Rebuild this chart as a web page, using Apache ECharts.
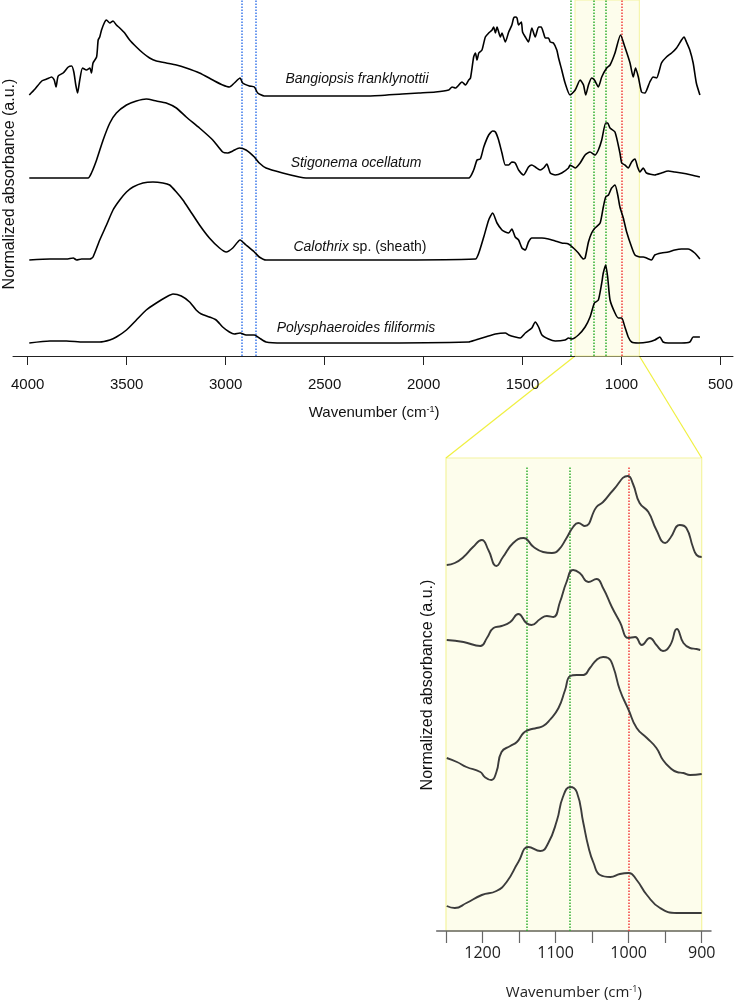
<!DOCTYPE html>
<html><head><meta charset="utf-8">
<script src="https://cdn.jsdelivr.net/npm/echarts@6/dist/echarts.min.js"></script>
<style>html,body{margin:0;padding:0;background:#fff}#c{width:736px;height:1004px}</style>
</head><body><div id="c"></div><script>
// ---- DATA (wavenumber cm-1, stacked normalized absorbance a.u.) ----
const seriesNames = ['Bangiopsis franklynottii', 'Stigonema ocellatum', 'Calothrix sp. (sheath)', 'Polysphaeroides filiformis'];
const topTicks = [4000, 3500, 3000, 2500, 2000, 1500, 1000, 500];
const insetTicks = [1200, 1100, 1000, 900];
const blueLines = [2920, 2850];
const greenLinesTop = [1258, 1140, 1080];
const greenLinesInset = [1140, 1080];
const redLines = [1000];
const zoomRange = [1235, 910];

const bangiopsisTop = [[3992,26.1],[3963,26.7],[3929,27.5],[3904,27.7],[3879,27.9],[3866,27.6],[3857,26.9],[3846,28.0],[3821,28.3],[3795,28.9],[3778,29.0],[3767,28.4],[3757,27.1],[3748,26.3],[3737,27.6],[3723,28.8],[3703,28.6],[3686,28.8],[3678,28.3],[3670,29.3],[3652,29.9],[3644,31.6],[3636,31.9],[3627,32.6],[3611,33.4],[3602,33.6],[3585,33.3],[3569,33.5],[3552,33.1],[3535,32.8],[3510,32.3],[3485,31.6],[3451,30.9],[3418,30.3],[3384,29.8],[3350,29.5],[3300,29.3],[3249,29.1],[3199,28.8],[3132,28.3],[3065,27.6],[3015,27.1],[2981,26.9],[2956,27.3],[2927,27.8],[2914,27.3],[2880,27.0],[2855,26.9],[2838,26.3],[2805,26.0],[2712,26.0],[2276,26.0],[2108,26.2],[2024,26.3],[1940,26.4],[1873,26.6],[1856,26.9],[1839,26.8],[1806,27.4],[1788,27.1],[1772,27.6],[1763,27.8],[1747,29.9],[1738,30.3],[1730,29.6],[1721,30.3],[1705,30.6],[1688,31.9],[1671,32.3],[1654,32.6],[1646,32.9],[1637,32.3],[1629,32.9],[1612,31.9],[1604,32.3],[1587,31.4],[1570,32.4],[1554,33.1],[1545,33.8],[1537,33.9],[1528,33.8],[1520,33.1],[1506,33.4],[1500,32.4],[1486,31.9],[1470,31.4],[1453,32.8],[1436,31.9],[1419,32.9],[1406,32.9],[1394,32.3],[1385,31.8],[1369,31.8],[1360,31.4],[1344,31.3],[1327,30.6],[1318,29.8],[1302,28.6],[1285,27.3],[1260,26.1],[1234,26.6],[1209,27.6],[1192,27.1],[1181,26.1],[1167,27.1],[1151,27.8],[1137,27.6],[1117,26.9],[1100,27.9],[1075,28.8],[1058,29.1],[1033,30.3],[1005,32.1],[983,30.9],[957,29.3],[941,27.9],[929,28.8],[915,27.9],[899,26.4],[882,26.3],[857,27.4],[840,27.9],[823,27.8],[798,29.3],[773,29.9],[747,30.3],[722,30.8],[697,31.6],[684,31.9],[672,31.4],[655,30.6],[638,29.3],[622,27.3],[604,26.1]];

const stigonemaTop = [[3992,17.8],[3695,17.8],[3678,18.3],[3652,19.6],[3619,21.6],[3585,23.3],[3552,24.3],[3501,25.1],[3451,25.5],[3401,25.7],[3350,25.5],[3300,25.3],[3249,24.8],[3199,23.9],[3132,22.8],[3065,21.6],[3015,20.4],[2989,20.3],[2964,20.5],[2931,20.8],[2897,20.6],[2855,19.9],[2830,19.3],[2796,18.8],[2712,18.3],[2628,17.9],[2594,17.8],[2276,17.8],[1772,17.8],[1747,18.6],[1730,19.6],[1713,19.7],[1696,20.9],[1671,22.1],[1651,22.5],[1637,22.4],[1621,21.6],[1604,20.3],[1587,19.1],[1570,19.1],[1554,19.4],[1537,19.3],[1520,18.6],[1495,18.1],[1470,18.9],[1453,19.1],[1436,18.9],[1411,18.6],[1394,18.8],[1377,19.2],[1360,18.3],[1335,18.1],[1302,18.3],[1268,18.8],[1260,19.1],[1234,18.8],[1209,19.3],[1184,20.1],[1159,20.4],[1134,20.1],[1117,20.6],[1100,21.6],[1080,23.3],[1070,23.3],[1058,22.8],[1033,22.4],[1008,20.3],[999,19.3],[983,19.1],[966,18.8],[949,19.4],[932,19.7],[919,18.9],[907,18.4],[890,18.8],[874,18.3],[832,18.1],[798,18.3],[764,18.5],[731,18.4],[697,18.3],[647,18.1],[604,17.9]];

const calothrixTop = [[3992,9.6],[3888,9.7],[3804,9.7],[3770,9.8],[3753,9.6],[3728,9.7],[3686,9.7],[3670,9.9],[3636,11.6],[3602,13.1],[3569,14.6],[3535,15.6],[3501,16.4],[3468,16.9],[3418,17.3],[3367,17.4],[3317,17.3],[3283,17.1],[3249,16.4],[3216,15.6],[3182,14.6],[3132,13.1],[3082,11.8],[3031,10.8],[2997,10.4],[2964,10.8],[2927,11.6],[2897,11.1],[2855,10.4],[2830,9.9],[2796,9.6],[2276,9.6],[1738,9.7],[1721,10.3],[1696,11.9],[1671,13.6],[1651,14.3],[1629,13.3],[1604,12.6],[1587,12.4],[1570,12.3],[1554,12.7],[1537,11.9],[1520,11.6],[1503,10.8],[1486,10.6],[1470,11.4],[1453,11.8],[1436,11.8],[1402,11.8],[1369,11.7],[1335,11.5],[1302,11.3],[1268,11.2],[1243,10.8],[1218,10.3],[1192,9.7],[1184,9.8],[1167,11.4],[1151,12.3],[1134,12.8],[1108,13.3],[1092,14.9],[1080,15.9],[1066,16.1],[1050,16.8],[1033,17.1],[1019,16.1],[1008,14.9],[991,13.8],[974,12.4],[949,10.9],[932,10.1],[907,9.9],[890,9.9],[874,9.8],[848,9.6],[832,10.1],[798,10.3],[764,10.4],[731,10.6],[697,10.7],[664,10.7],[630,10.3],[604,9.7]];

const polysphaeroidesTop = [[3992,1.3],[3888,1.5],[3804,1.5],[3720,1.4],[3636,1.4],[3585,1.6],[3552,1.9],[3501,2.6],[3451,3.6],[3401,4.6],[3350,5.3],[3300,5.9],[3266,6.2],[3224,6.0],[3182,5.4],[3149,4.6],[3123,4.2],[3082,3.9],[3048,3.6],[3015,2.9],[2981,2.4],[2956,2.2],[2927,2.3],[2897,2.1],[2855,2.1],[2830,1.8],[2796,1.4],[2712,1.3],[2276,1.3],[1772,1.4],[1738,1.6],[1688,1.9],[1637,2.2],[1587,2.3],[1570,2.1],[1537,1.9],[1512,1.8],[1486,2.3],[1453,2.8],[1436,3.4],[1419,2.9],[1402,2.1],[1369,1.7],[1335,1.5],[1285,1.6],[1268,1.8],[1251,1.7],[1218,2.1],[1184,2.9],[1159,3.9],[1137,5.3],[1117,5.6],[1100,7.3],[1092,8.3],[1080,9.1],[1070,7.9],[1058,5.6],[1033,4.3],[1016,3.8],[999,3.8],[983,2.9],[966,1.9],[949,1.4],[915,1.3],[865,1.4],[832,1.6],[806,1.9],[790,1.4],[764,1.3],[697,1.3],[655,1.4],[638,1.9],[604,1.9]];

const bangiopsisInset = [[1249,36.6],[1238,36.8],[1226,37.4],[1213,38.4],[1201,39.1],[1192,38.1],[1181,36.5],[1172,37.4],[1158,38.8],[1144,39.3],[1130,38.4],[1117,37.9],[1105,37.8],[1096,38.1],[1085,39.3],[1076,40.4],[1069,40.8],[1060,40.5],[1044,42.4],[1035,42.9],[1021,44.1],[1001,45.5],[994,44.7],[985,42.8],[973,41.9],[962,40.1],[950,38.8],[943,39.3],[930,40.6],[921,40.3],[912,38.4],[907,37.6],[900,37.4]];

const stigonemaInset = [[1249,29.1],[1226,28.9],[1203,28.5],[1194,29.3],[1185,30.3],[1174,30.5],[1162,30.9],[1151,31.7],[1140,30.8],[1133,30.6],[1121,31.2],[1112,31.5],[1103,31.4],[1094,32.9],[1085,34.9],[1076,36.1],[1067,35.8],[1055,34.9],[1044,35.2],[1035,34.3],[1023,32.4],[1012,30.9],[1000,29.3],[991,29.4],[982,28.6],[971,29.3],[962,28.6],[953,28.0],[943,28.6],[934,30.2],[925,28.8],[916,28.3],[907,28.2],[902,28.1]];

const calothrixInset = [[1249,17.3],[1235,16.9],[1222,16.4],[1203,15.9],[1197,15.4],[1188,15.1],[1181,15.9],[1174,17.9],[1162,18.5],[1153,18.9],[1144,19.8],[1137,20.1],[1126,20.3],[1117,20.5],[1108,21.1],[1096,22.3],[1087,24.1],[1080,25.5],[1071,25.6],[1062,25.6],[1053,26.3],[1044,27.1],[1035,27.4],[1028,27.3],[1021,26.4],[1012,24.1],[1000,22.1],[989,20.3],[975,19.3],[962,18.3],[953,17.1],[943,16.3],[934,15.9],[925,15.8],[916,15.6],[900,15.7]];

const polysphaeroidesInset = [[1249,2.5],[1238,2.3],[1222,2.8],[1201,3.6],[1181,4.0],[1167,4.9],[1151,6.9],[1137,8.4],[1121,8.0],[1110,8.8],[1098,11.1],[1090,13.4],[1080,14.4],[1071,13.9],[1062,10.8],[1055,8.4],[1048,6.8],[1039,5.6],[1025,5.4],[1012,5.7],[1000,5.8],[989,5.1],[975,3.6],[957,2.3],[934,1.8],[916,1.8],[900,1.8]];

// ---- CHART ----
const chart = echarts.init(document.getElementById('c'), null, {renderer: 'canvas'});
const FONT = 'Liberation Sans, Arial, sans-serif';
const BLUE = '#3b78ea', GREEN = '#2fae2f', RED = '#f23c3c';
const yTopMax = 35.6, yInsetMax = 47.3;

const dotted = (c) => ({color: c, type: 'dotted', width: 1.5});
const topMarkLines = [].concat(
  blueLines.map(v => ({xAxis: v, lineStyle: dotted(BLUE)})),
  greenLinesTop.map(v => ({xAxis: v, lineStyle: dotted(GREEN)})),
  redLines.map(v => ({xAxis: v, lineStyle: dotted(RED)}))
);
const insetMarkLines = [].concat(
  greenLinesInset.map(v => [{coord: [v, 0], lineStyle: dotted(GREEN)}, {coord: [v, 46.4]}]),
  redLines.map(v => [{coord: [v, 0], lineStyle: dotted(RED)}, {coord: [v, 46.4]}])
);

const topData = [bangiopsisTop, stigonemaTop, calothrixTop, polysphaeroidesTop];
const insetData = [bangiopsisInset, stigonemaInset, calothrixInset, polysphaeroidesInset];

const series = [];
topData.forEach((d, i) => {
  const s = {
    name: seriesNames[i], type: 'line', xAxisIndex: 0, yAxisIndex: 0, data: d,
    showSymbol: false, smooth: 0.2, silent: true,
    lineStyle: {color: '#000', width: 1.6}, z: 5
  };
  if (i === 0) {
    s.markArea = {silent: true, itemStyle: {color: '#fdfdec', borderColor: '#f4f4a0', borderWidth: 1},
      data: [[{xAxis: zoomRange[0]}, {xAxis: zoomRange[1]}]]};
    s.markLine = {silent: true, symbol: 'none', label: {show: false}, data: topMarkLines, z: 3};
  }
  series.push(s);
});
insetData.forEach((d, i) => {
  const s = {
    name: seriesNames[i] + ' (inset)', type: 'line', xAxisIndex: 2, yAxisIndex: 2, data: d,
    showSymbol: false, smooth: 0.5, silent: true,
    lineStyle: {color: '#3c3c3c', width: 1.9}, z: 5
  };
  if (i === 0) {
    s.markLine = {silent: true, symbol: 'none', label: {show: false}, data: insetMarkLines, z: 3};
  }
  series.push(s);
});

const supRich = {sup: {fontSize: 9, verticalAlign: 'top', lineHeight: 15}};

chart.setOption({
  animation: false,
  backgroundColor: '#ffffff',
  grid: [
    {left: 27.7, top: 0, width: 694.6, height: 356},
    {left: 13, top: 0, width: 720, height: 356},
    {left: 446, top: 458, width: 255.7, height: 473, show: true, backgroundColor: '#fdfdec', borderColor: '#f4f4a0', borderWidth: 1.2},
    {left: 436.7, top: 458, width: 274.3, height: 473}
  ],
  xAxis: [
    {gridIndex: 0, type: 'value', inverse: true, min: 500, max: 4000, interval: 500,
      axisLine: {show: false}, axisTick: {show: true, length: 9, lineStyle: {color: '#222'}},
      splitLine: {show: false},
      axisLabel: {margin: 21, fontSize: 15, color: '#111', fontFamily: FONT,
        formatter: v => topTicks.includes(v) ? String(v) : ''},
      name: 'Wavenumber (cm{sup|-1})', nameLocation: 'middle', nameGap: 49,
      nameTextStyle: {fontSize: 15, color: '#111', fontFamily: FONT, rich: supRich}},
    {gridIndex: 1, type: 'value', min: 0, max: 1, axisLine: {show: true, lineStyle: {color: '#222', width: 1}},
      axisTick: {show: false}, axisLabel: {show: false}, splitLine: {show: false}},
    {gridIndex: 2, type: 'value', inverse: true, min: 900, max: 1250, interval: 50,
      axisLine: {show: false}, axisTick: {show: true, length: 12, lineStyle: {color: '#666', width: 1.2}},
      splitLine: {show: false},
      axisLabel: {margin: 14, fontSize: 16, color: '#222', fontFamily: 'Open Sans, sans-serif',
        formatter: v => insetTicks.includes(v) ? String(v) : ''},
      name: 'Wavenumber (cm{sup|-1})', nameLocation: 'middle', nameGap: 54,
      nameTextStyle: {fontSize: 15, color: '#222', fontFamily: 'Open Sans, sans-serif', rich: supRich}},
    {gridIndex: 3, type: 'value', min: 0, max: 1, axisLine: {show: true, lineStyle: {color: '#666', width: 1.5}},
      axisTick: {show: false}, axisLabel: {show: false}, splitLine: {show: false}}
  ],
  yAxis: [
    {gridIndex: 0, type: 'value', min: 0, max: yTopMax, show: false},
    {gridIndex: 1, type: 'value', min: 0, max: 1, show: false},
    {gridIndex: 2, type: 'value', min: 0, max: yInsetMax, show: false},
    {gridIndex: 3, type: 'value', min: 0, max: 1, show: false}
  ],
  series: series
});

// labels and connectors (positions derived from the axes)
const ital = {fontSize: 14, fontStyle: 'italic', fontFamily: FONT, fill: '#111', align: 'center', verticalAlign: 'middle'};
const a = chart.convertToPixel({xAxisIndex: 0, yAxisIndex: 0}, [zoomRange[0], 0]);
const b = chart.convertToPixel({xAxisIndex: 0, yAxisIndex: 0}, [zoomRange[1], 0]);
const c = chart.convertToPixel({xAxisIndex: 2, yAxisIndex: 2}, [1250, yInsetMax]);
const d = chart.convertToPixel({xAxisIndex: 2, yAxisIndex: 2}, [900, yInsetMax]);
chart.setOption({
  graphic: [
    {type: 'text', x: 357, y: 79, style: Object.assign({text: seriesNames[0]}, ital)},
    {type: 'text', x: 356, y: 163, style: Object.assign({text: seriesNames[1]}, ital)},
    {type: 'text', x: 360, y: 247, style: {text: '{i|Calothrix} sp. (sheath)', fontSize: 14, fontFamily: FONT, fill: '#111', align: 'center', verticalAlign: 'middle',
      rich: {i: {fontStyle: 'italic', fontSize: 14, fontFamily: FONT, fill: '#111'}}}},
    {type: 'text', x: 356, y: 328, style: Object.assign({text: seriesNames[3]}, ital)},
    {type: 'text', x: 10, y: 184, rotation: Math.PI / 2, style: {text: 'Normalized absorbance (a.u.)', fontSize: 16, fontFamily: FONT, fill: '#111', align: 'center', verticalAlign: 'middle'}},
    {type: 'text', x: 428, y: 685, rotation: Math.PI / 2, style: {text: 'Normalized absorbance (a.u.)', fontSize: 16, fontFamily: FONT, fill: '#111', align: 'center', verticalAlign: 'middle'}},
    {type: 'line', shape: {x1: a[0], y1: a[1], x2: c[0], y2: c[1]}, style: {stroke: '#f0f040', lineWidth: 1.2}},
    {type: 'line', shape: {x1: b[0], y1: b[1], x2: d[0], y2: d[1]}, style: {stroke: '#f0f040', lineWidth: 1.2}}
  ]
});
</script></body></html>
